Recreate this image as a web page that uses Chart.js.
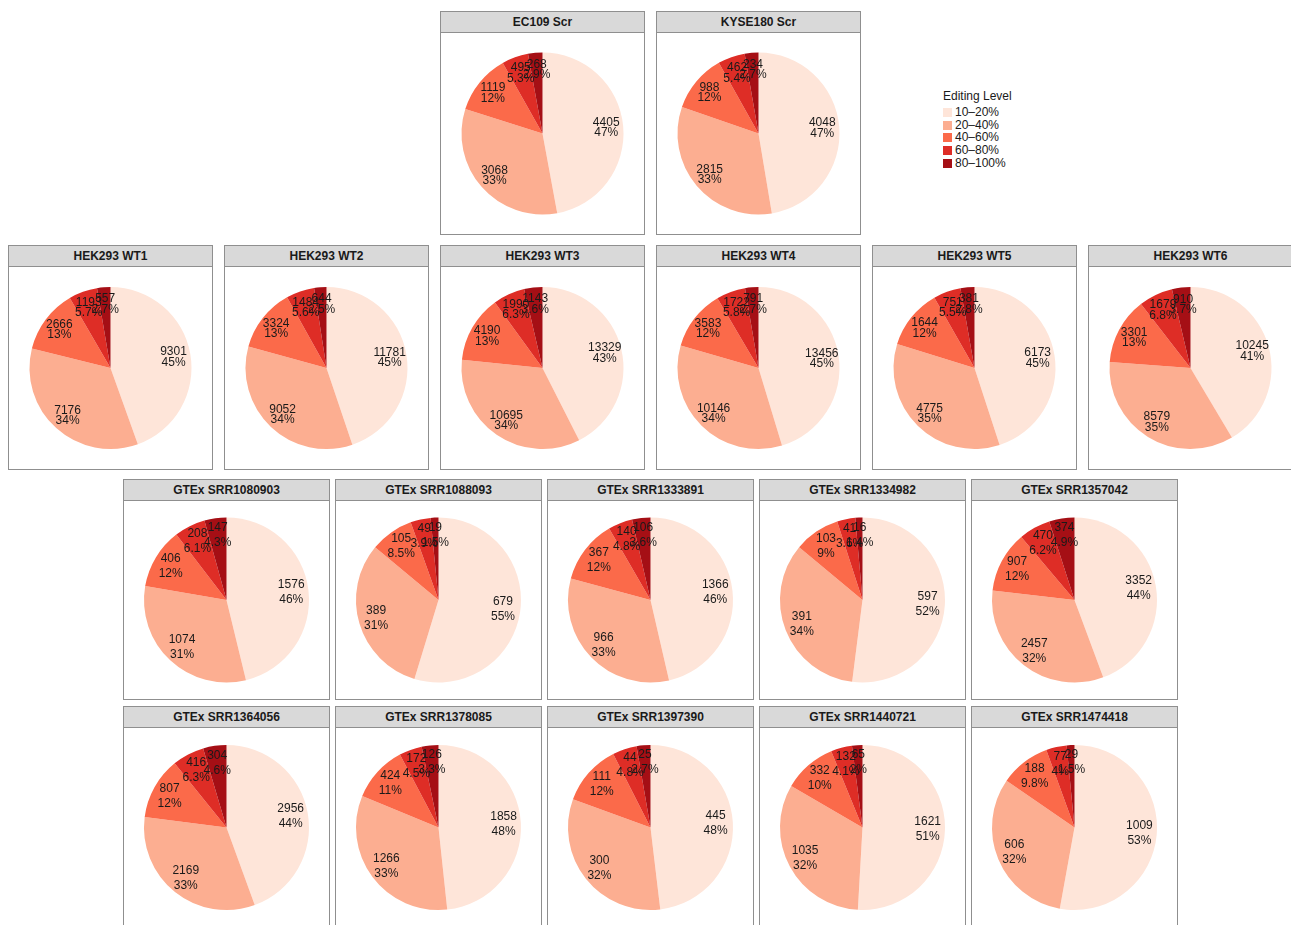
<!DOCTYPE html>
<html>
<head>
<meta charset="utf-8">
<title>Editing Level</title>
<script src="https://cdn.jsdelivr.net/npm/chart.js@4/dist/chart.umd.min.js"></script>
<style>
  html, body { margin: 0; padding: 0; background: #fff; }
  body { width: 1291px; height: 925px; position: relative; overflow: hidden;
         font-family: "Liberation Sans", Arial, Helvetica, sans-serif; color: #1a1a1a; }
  .panel { position: absolute; box-sizing: border-box; border: 1px solid #8f8f8f; background: #fff; }
  .strip { height: 20px; line-height: 20px; background: #d9d9d9; border-bottom: 1px solid #8f8f8f;
           text-align: center; font-weight: bold; font-size: 12px; color: #1a1a1a; }
  .panel canvas { display: block; }
  #legend { position: absolute; left: 943px; top: 89px; font-size: 12px; }
  #legend .title { margin-bottom: 3px; }
  #legend .item { height: 12.7px; line-height: 12.7px; white-space: nowrap; }
  #legend .key { display: inline-block; width: 9px; height: 9px; margin-right: 3px; vertical-align: -1px; }
</style>
</head>
<body>
<div id="legend"><div class="title">Editing Level</div></div>

<script>
// editing level categories and sample names
const levels = ['10–20%', '20–40%', '40–60%', '60–80%', '80–100%'];
const levelColors = ['#fee5d9', '#fcae91', '#fb6a4a', '#de2d26', '#a50f15'];

const samples = [
  'EC109 Scr', 'KYSE180 Scr',
  'HEK293 WT1', 'HEK293 WT2', 'HEK293 WT3', 'HEK293 WT4', 'HEK293 WT5', 'HEK293 WT6',
  'GTEx SRR1080903', 'GTEx SRR1088093', 'GTEx SRR1333891', 'GTEx SRR1334982', 'GTEx SRR1357042',
  'GTEx SRR1364056', 'GTEx SRR1378085', 'GTEx SRR1397390', 'GTEx SRR1440721', 'GTEx SRR1474418'
];

// site counts per editing level, same order as samples
const count10to20  = [4405, 4048, 9301, 11781, 13329, 13456, 6173, 10245, 1576, 679, 1366, 597, 3352, 2956, 1858, 445, 1621, 1009];
const count20to40  = [3068, 2815, 7176, 9052, 10695, 10146, 4775, 8579, 1074, 389, 966, 391, 2457, 2169, 1266, 300, 1035, 606];
const count40to60  = [1119, 988, 2666, 3324, 4190, 3583, 1644, 3301, 406, 105, 367, 103, 907, 807, 424, 111, 332, 188];
const count60to80  = [495, 462, 1193, 1484, 1990, 1722, 751, 1679, 208, 49, 140, 41, 470, 416, 172, 44, 132, 77];
const count80to100 = [268, 234, 557, 644, 1143, 791, 381, 910, 147, 19, 106, 16, 374, 304, 126, 25, 65, 29];

// panel layout: rows of facets
const rows = [
  { top: 11,  height: 224, width: 205, xs: [440, 656], r: 81, lh: 10.5 },
  { top: 245, height: 225, width: 205, xs: [8, 224, 440, 656, 872, 1088], r: 81, lh: 10.5 },
  { top: 479, height: 221, width: 207, xs: [123, 335, 547, 759, 971], r: 82.5, lh: 15 },
  { top: 706, height: 222, width: 207, xs: [123, 335, 547, 759, 971], r: 82.5, lh: 15 }
];

// 2 significant digits, ties go to even (like R's signif)
function fmtPct(p) {
  const d = p >= 10 ? 0 : 1;
  const s = Math.pow(10, d);
  const x = p * s;
  let n = Math.round(x);
  if (Math.abs(x - Math.floor(x) - 0.5) < 1e-9) n = Math.floor(x) % 2 === 0 ? Math.floor(x) : Math.floor(x) + 1;
  return String(n / s) + '%';
}

const sliceLabels = {
  id: 'sliceLabels',
  afterDatasetsDraw(chart, args, opts) {
    const ctx = chart.ctx;
    const meta = chart.getDatasetMeta(0);
    const data = chart.data.datasets[0].data;
    const total = data.reduce((a, b) => a + b, 0);
    ctx.save();
    ctx.font = '12px "Liberation Sans", Arial, sans-serif';
    ctx.fillStyle = '#1a1a1a';
    ctx.textAlign = 'center';
    ctx.textBaseline = 'middle';
    meta.data.forEach((arc, i) => {
      const p = arc.getProps(['x', 'y', 'startAngle', 'endAngle', 'outerRadius'], true);
      const mid = (p.startAngle + p.endAngle) / 2;
      const rr = p.outerRadius * 0.79;
      const x = p.x + Math.cos(mid) * rr;
      const y = p.y + Math.sin(mid) * rr;
      ctx.fillText(String(data[i]), x, y - opts.lh / 2);
      ctx.fillText(fmtPct(data[i] / total * 100), x, y + opts.lh / 2);
    });
    ctx.restore();
  }
};

// legend
const legendEl = document.getElementById('legend');
levels.forEach((lv, i) => {
  const item = document.createElement('div');
  item.className = 'item';
  item.innerHTML = `<span class="key" style="background:${levelColors[i]}"></span>${lv}`;
  legendEl.appendChild(item);
});

let idx = 0;
rows.forEach(row => {
  row.xs.forEach(x => {
    const i = idx++;
    const panel = document.createElement('div');
    panel.className = 'panel';
    panel.style.left = x + 'px';
    panel.style.top = row.top + 'px';
    panel.style.width = row.width + 'px';
    panel.style.height = row.height + 'px';

    const strip = document.createElement('div');
    strip.className = 'strip';
    strip.textContent = samples[i];
    panel.appendChild(strip);

    const cw = row.width - 2, ch = row.height - 2 - 21;
    const canvas = document.createElement('canvas');
    canvas.width = cw;
    canvas.height = ch;
    canvas.style.width = cw + 'px';
    canvas.style.height = ch + 'px';
    panel.appendChild(canvas);
    document.body.appendChild(panel);

    const pad = (Math.min(cw, ch) - 2 * row.r) / 2;
    new Chart(canvas.getContext('2d'), {
      type: 'pie',
      data: {
        labels: levels,
        datasets: [{
          data: [count10to20[i], count20to40[i], count40to60[i], count60to80[i], count80to100[i]],
          backgroundColor: levelColors,
          borderWidth: 0,
          hoverOffset: 0
        }]
      },
      options: {
        responsive: false,
        maintainAspectRatio: false,
        animation: false,
        devicePixelRatio: 1,
        layout: { padding: pad },
        events: [],
        plugins: {
          legend: { display: false },
          tooltip: { enabled: false },
          sliceLabels: { lh: row.lh }
        }
      },
      plugins: [sliceLabels]
    });
  });
});
</script>
</body>
</html>
